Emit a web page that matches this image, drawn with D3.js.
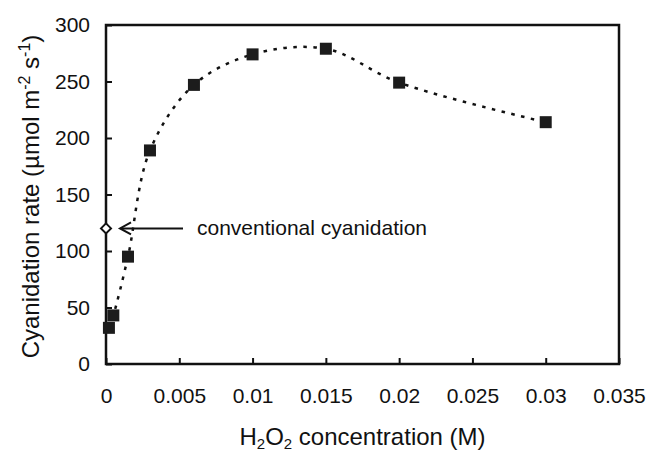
<!DOCTYPE html>
<html>
<head>
<meta charset="utf-8">
<script src="https://cdn.jsdelivr.net/npm/d3@7"></script>
<style>
  body { margin: 0; background: #fff; }
  text { font-family: 'Liberation Sans', Arial, sans-serif; fill: #111; }
</style>
</head>
<body>
<svg id="chart" width="647" height="455"></svg>
<script>
// data
const conc = [0.0002, 0.0005, 0.0015, 0.003, 0.006, 0.01, 0.015, 0.02, 0.03]
const rate = [32, 43, 95, 189, 247, 274, 279, 249, 214]
const convConc = 0
const convRate = 120
const xTicks = [0, 0.005, 0.01, 0.015, 0.02, 0.025, 0.03, 0.035]
const xTickLabels = ['0', '0.005', '0.01', '0.015', '0.02', '0.025', '0.03', '0.035']
const yTicks = [0, 50, 100, 150, 200, 250, 300]

const svg = d3.select('#chart')
const box = { left: 106, right: 619, top: 25, bottom: 364 }

const x = d3.scaleLinear().domain([0, 0.035]).range([box.left, box.right])
const y = d3.scaleLinear().domain([0, 300]).range([box.bottom, box.top])

// 坐标轴 (刻度朝内)
const xAxis = d3.axisBottom(x).tickValues(xTicks).tickSize(-6).tickFormat((d, i) => xTickLabels[i]).tickPadding(24)
const yAxis = d3.axisLeft(y).tickValues(yTicks).tickSize(-6).tickPadding(16)

const gx = svg.append('g').attr('transform', `translate(0,${box.bottom})`).call(xAxis)
const gy = svg.append('g').attr('transform', `translate(${box.left},0)`).call(yAxis)
;[gx, gy].forEach((g) => {
    g.select('.domain').remove()
    g.selectAll('.tick line').attr('stroke', '#111').attr('stroke-width', 2)
    g.selectAll('.tick text').attr('font-size', '21px').attr('font-family', "'Liberation Sans', Arial, sans-serif").attr('fill', '#111')
})

// 外框
svg.append('rect')
    .attr('x', box.left).attr('y', box.top)
    .attr('width', box.right - box.left).attr('height', box.bottom - box.top)
    .attr('fill', 'none').attr('stroke', '#111').attr('stroke-width', 2.5)

// 虚线曲线
const pts = conc.map((c, i) => [c, rate[i]])
const line = d3.line().x((d) => x(d[0])).y((d) => y(d[1])).curve(d3.curveCatmullRom.alpha(0.5))
svg.append('path')
    .attr('d', line(pts))
    .attr('fill', 'none').attr('stroke', '#111')
    .attr('stroke-width', 2.5).attr('stroke-dasharray', '3.5,6.5')

// 数据点
svg.selectAll('.pt').data(pts).enter().append('rect')
    .attr('class', 'pt')
    .attr('x', (d) => x(d[0]) - 6).attr('y', (d) => y(d[1]) - 6)
    .attr('width', 12).attr('height', 12)
    .attr('fill', '#1c1c1c')

// 常规氰化 (菱形)
const cx = x(convConc), cy = y(convRate)
svg.append('path')
    .attr('d', `M${cx},${cy - 5}L${cx + 5},${cy}L${cx},${cy + 5}L${cx - 5},${cy}Z`)
    .attr('fill', '#fff').attr('stroke', '#111').attr('stroke-width', 2)

// 箭头
svg.append('line')
    .attr('x1', cx + 15).attr('x2', cx + 77).attr('y1', cy).attr('y2', cy)
    .attr('stroke', '#111').attr('stroke-width', 2)
svg.append('path')
    .attr('d', `M${cx + 25},${cy - 6}L${cx + 14},${cy}L${cx + 25},${cy + 6}`)
    .attr('fill', 'none').attr('stroke', '#111').attr('stroke-width', 2)
svg.append('text')
    .attr('x', cx + 91).attr('y', cy + 7)
    .attr('font-size', '21px')
    .text('conventional cyanidation')

// 轴标题
const xt = svg.append('text')
    .attr('x', (box.left + box.right) / 2).attr('y', 445)
    .attr('text-anchor', 'middle').attr('font-size', '24px')
xt.append('tspan').text('H')
xt.append('tspan').text('2').attr('font-size', '15px').attr('dy', 4)
xt.append('tspan').text('O').attr('dy', -4)
xt.append('tspan').text('2').attr('font-size', '15px').attr('dy', 4)
xt.append('tspan').text(' concentration (M)').attr('dy', -4)

const yt = svg.append('text')
    .attr('transform', `translate(39,${(box.top + box.bottom) / 2 + 2}) rotate(-90)`)
    .attr('text-anchor', 'middle').attr('font-size', '24px')
yt.append('tspan').text('Cyanidation rate (µmol m')
yt.append('tspan').text('-2').attr('font-size', '16px').attr('dy', -9)
yt.append('tspan').text(' s').attr('dy', 9)
yt.append('tspan').text('-1').attr('font-size', '16px').attr('dy', -9)
yt.append('tspan').text(')').attr('dy', 9)
</script>
</body>
</html>
